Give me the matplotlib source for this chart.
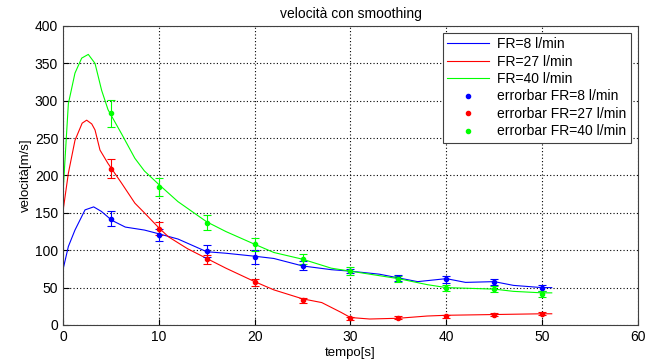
import numpy as np
import matplotlib
matplotlib.use('Agg')
import matplotlib.pyplot as plt
from matplotlib.lines import Line2D

plt.rcParams['font.family'] = ['Liberation Sans', 'DejaVu Sans']

# measured points with error bars
t_err = [5, 10, 15, 20, 25, 30, 35, 40, 45, 50]
v8 = [142, 120, 99, 91, 79, 72, 63, 61, 57, 50]
e8 = [10, 8, 8, 9, 6, 3, 4, 5, 4, 4]
v27 = [209, 129, 88, 57, 33, 9, 10, 12, 14, 15]
e27 = [13, 9, 6, 5, 3, 2, 2, 2, 2, 2]
v40 = [283, 185, 137, 108, 88, 72, 61, 50, 48, 42]
e40 = [18, 12, 10, 9, 7, 5, 4, 4, 4, 4]

# smoothed curves
t8 = [0, 0.56, 1.25, 2.3, 3.2, 4.0, 5.1, 6.5, 7.5, 8.5, 10, 12, 15, 17, 20, 22, 25, 28, 30, 33, 35, 37, 40, 42, 45, 47, 50, 51]
s8 = [74, 105, 127, 154, 158, 152, 140, 131, 129, 127, 122, 115, 98, 96, 92, 89, 79, 74, 72, 68, 63, 58, 62, 57, 58, 53, 50, 50]
t27 = [0, 0.56, 1.25, 2.0, 2.47, 3.0, 3.34, 3.86, 4.7, 6.1, 7.5, 8.5, 10, 11, 13, 15, 17, 20, 22, 25, 27, 29, 30, 32, 35, 38, 40, 45, 50, 51]
s27 = [152, 203, 247, 270, 274, 269, 261, 234, 216, 190, 163, 150, 130, 118, 102, 89, 76, 58, 47, 35, 30, 17, 10, 8, 9, 12, 13, 14, 15, 15]
t40 = [0, 0.56, 1.25, 1.95, 2.64, 3.34, 4.03, 4.7, 6.1, 7.5, 8.5, 10, 12, 15, 17, 20, 22, 25, 28, 30, 33, 35, 38, 40, 45, 47, 50, 51]
s40 = [176, 296, 337, 357, 362, 350, 314, 288, 256, 223, 206, 188, 165, 138, 125, 108, 97, 88, 76, 72, 66, 62, 54, 50, 48, 45, 43, 43]

fig = plt.figure(figsize=(6.61, 3.63), dpi=100)
ax = fig.add_axes([0.0953, 0.1047, 0.8699, 0.8237])

cols = ['#0000ff', '#ff0000', '#00ff00']
ax.plot(t8, s8, color=cols[0], lw=0.8)
ax.plot(t27, s27, color=cols[1], lw=0.8)
ax.plot(t40, s40, color=cols[2], lw=0.8)
for v, e, c in zip([v8, v27, v40], [e8, e27, e40], cols):
    ax.errorbar(t_err, v, yerr=e, fmt='.', color=c, ms=6, capsize=3, elinewidth=0.8, capthick=0.8)

ax.set_xlim(0, 60)
ax.set_ylim(0, 400)
ax.set_xticks(np.arange(0, 61, 10))
ax.set_yticks(np.arange(0, 401, 50))
ax.grid(True, color='black', linestyle=(0, (1, 2)), linewidth=0.8)
ax.tick_params(labelsize=10, direction='in', length=4)
for s in ax.spines.values():
    s.set_color('#404040')

ax.set_title('velocità con smoothing', fontsize=10)
ax.set_xlabel('tempo[s]', fontsize=9.5, labelpad=2)
ax.set_ylabel('velocità[m/s]', fontsize=9.5, labelpad=2)

labels = ['FR=8 l/min', 'FR=27 l/min', 'FR=40 l/min',
          'errorbar FR=8 l/min', 'errorbar FR=27 l/min', 'errorbar FR=40 l/min']
handles = [Line2D([], [], color=c, lw=0.8) for c in cols] + \
          [Line2D([], [], color=c, ls='none', marker='.', ms=6) for c in cols]
leg = ax.legend(handles, labels, loc='upper right', bbox_to_anchor=(0.987, 0.977), fontsize=10,
                fancybox=False, framealpha=1, edgecolor='#404040', handlelength=3,
                handletextpad=0.6, borderpad=0.3, labelspacing=0.25, borderaxespad=0)
leg.get_frame().set_linewidth(0.8)

fig.savefig('out.png', dpi=100)
